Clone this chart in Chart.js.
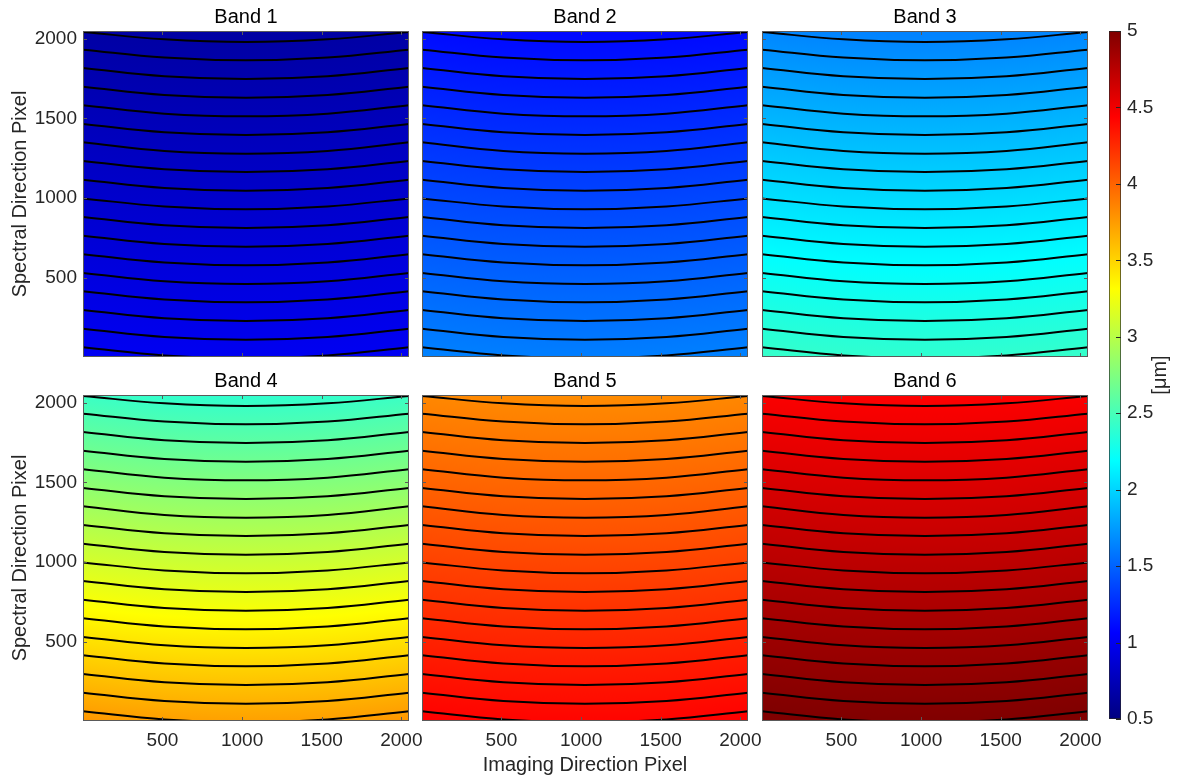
<!DOCTYPE html>
<html>
<head>
<meta charset="utf-8">
<script src="https://cdn.jsdelivr.net/npm/chart.js@4.4.1/dist/chart.umd.min.js"></script>
<style>
  html,body{margin:0;padding:0;background:#fff;}
  body{width:1183px;height:781px;position:relative;overflow:hidden;}
  canvas{position:absolute;}
</style>
</head>
<body>
<script>
/* DATA */
const bandNames=["Band 1","Band 2","Band 3","Band 4","Band 5","Band 6"];
// wavelength [um] on the centre column, at spectral pixel 2048 (top) and 1 (bottom)
const lambdaTop=[0.65,1.09,1.63,2.40,3.82,4.44];
const lambdaBottom=[1.00,1.62,2.40,3.73,4.42,5.00];

// iso-wavelength curves (same pixel positions in every band)
const contourX=[1,512,1024,1536,2048];
const contourEdgeY=[2042,1931,1816,1698,1582,1464,1349,1232,1114,997,880,763,646,529,414,296,179,62];
const contourQuarterY=[1996,1881,1764,1646,1529,1412,1295,1180,1062,946,828,711,594,476,362,244,127,11];
const contourMidY=[1979,1864,1747,1629,1512,1395,1278,1163,1045,929,811,694,577,459,345,227,110,-6];

const axisTicks=[500,1000,1500,2000];
const cbarTicks=[0.5,1,1.5,2,2.5,3,3.5,4,4.5,5];

/* LAYOUT */
const FONT='"Liberation Sans", Arial, Helvetica, sans-serif';
const INK="#262626";
const FRAME="#5a5a5a";
const COL_LEFT=[83,422,762];
const ROW_TOP=[31,395];
const PLOT=326;
const AXIS_W=83, TITLE_H=31, BOTTOM_H=60, RIGHT_PAD=24;

const JET=[[0,"rgb(0,0,128)"],[0.125,"rgb(0,0,255)"],[0.375,"rgb(0,255,255)"],
           [0.625,"rgb(255,255,0)"],[0.875,"rgb(255,0,0)"],[1,"rgb(128,0,0)"]];
const CMIN=0.5, CMAX=5;

function addJet(g){ JET.forEach(([t,c])=>g.addColorStop(t,c)); return g; }

function makeCanvas(left,top,w,h){
  const c=document.createElement("canvas");
  c.width=w; c.height=h;
  c.style.left=left+"px"; c.style.top=top+"px";
  c.style.width=w+"px"; c.style.height=h+"px";
  document.body.appendChild(c);
  return c;
}

/* wavelength field behind the contours, one gradient per pixel column */
function fieldPlugin(band){
  const sag=contourEdgeY.reduce((s,v,k)=>s+v-contourMidY[k],0)/contourEdgeY.length;
  return {
    id:"field",
    beforeDatasetsDraw(chart){
      const {ctx,chartArea:a,scales:{x,y}}=chart;
      const lt=lambdaTop[band], lb=lambdaBottom[band];
      ctx.save();
      for(let px=Math.floor(a.left);px<Math.ceil(a.right);px++){
        const u=(x.getValueForPixel(px+0.5)-1024.5)/1023.5;
        const shift=sag*u*u;
        const yAt=v=>1+(v-lb)/(lt-lb)*2047+shift;
        const g=ctx.createLinearGradient(0,y.getPixelForValue(yAt(CMIN)),0,y.getPixelForValue(yAt(CMAX)));
        ctx.fillStyle=addJet(g);
        ctx.fillRect(px,a.top,1,a.bottom-a.top);
      }
      ctx.restore();
    }
  };
}

/* box + inward tick marks on all four sides */
const framePlugin={
  id:"frame",
  afterDatasetsDraw(chart){
    const {ctx,chartArea:a,scales:{x,y}}=chart;
    ctx.save();
    ctx.strokeStyle=FRAME; ctx.lineWidth=1;
    ctx.beginPath();
    axisTicks.forEach(v=>{
      const px=Math.round(x.getPixelForValue(v))+0.5;
      ctx.moveTo(px,a.bottom); ctx.lineTo(px,a.bottom-4);
      ctx.moveTo(px,a.top); ctx.lineTo(px,a.top+4);
      const py=Math.round(y.getPixelForValue(v))+0.5;
      ctx.moveTo(a.left,py); ctx.lineTo(a.left+4,py);
      ctx.moveTo(a.right,py); ctx.lineTo(a.right-4,py);
    });
    ctx.stroke();
    ctx.strokeRect(a.left+0.5,a.top+0.5,a.right-a.left-1,a.bottom-a.top-1);
    ctx.restore();
  }
};

function fixTicks(list){ return s=>{ s.ticks=list.map(v=>({value:v})); }; }

/* PANELS */
bandNames.forEach((name,i)=>{
  const row=Math.floor(i/3), col=i%3;
  const cv=makeCanvas(COL_LEFT[col]-AXIS_W,ROW_TOP[row]-TITLE_H,AXIS_W+PLOT+RIGHT_PAD,TITLE_H+PLOT+BOTTOM_H);

  const datasets=contourMidY.map((mid,k)=>{
    const ys=[contourEdgeY[k],contourQuarterY[k],mid,contourQuarterY[k],contourEdgeY[k]];
    return {
      data:contourX.map((x,j)=>({x:x,y:ys[j]})),
      borderColor:"#000",
      borderWidth:2,
      pointRadius:0,
      tension:0.4,
      fill:false
    };
  });

  new Chart(cv,{
    type:"line",
    data:{datasets:datasets},
    options:{
      responsive:false,
      animation:false,
      devicePixelRatio:1,
      events:[],
      layout:{padding:{left:0,right:RIGHT_PAD,top:0,bottom:0}},
      plugins:{
        legend:{display:false},
        tooltip:{enabled:false},
        title:{
          display:true,
          text:name,
          fullSize:false,
          color:"#000",
          font:{family:FONT,size:20,weight:"normal"},
          padding:{top:5,bottom:2}
        }
      },
      scales:{
        x:{
          type:"linear",min:1,max:2048,
          grid:{display:false,drawTicks:false},
          border:{display:false},
          afterBuildTicks:fixTicks(axisTicks),
          afterFit:s=>{s.height=BOTTOM_H;},
          ticks:{display:row===1,color:INK,padding:8,font:{family:FONT,size:19},maxRotation:0,callback:v=>String(v)},
          title:{display:i===4,text:"Imaging Direction Pixel",color:INK,font:{family:FONT,size:20},padding:{top:0,bottom:4}}
        },
        y:{
          type:"linear",min:1,max:2048,
          grid:{display:false,drawTicks:false},
          border:{display:false},
          afterBuildTicks:fixTicks(axisTicks),
          afterFit:s=>{s.width=AXIS_W;},
          ticks:{display:col===0,color:INK,padding:6,font:{family:FONT,size:19},callback:v=>String(v)},
          title:{display:col===0,text:"Spectral Direction Pixel",color:INK,font:{family:FONT,size:20},padding:{top:8,bottom:0}}
        }
      }
    },
    plugins:[fieldPlugin(i),framePlugin]
  });
});

/* COLORBAR */
const cbCanvas=makeCanvas(1100,0,83,781);
new Chart(cbCanvas,{
  type:"bar",
  data:{
    labels:[""],
    datasets:[{
      data:[[CMIN,CMAX]],
      barPercentage:1,
      categoryPercentage:1,
      borderWidth:1,
      borderColor:INK,
      borderSkipped:false,
      backgroundColor:c=>{
        const {chart}=c;
        if(!chart.chartArea) return null;
        const y=chart.scales.y;
        return addJet(chart.ctx.createLinearGradient(0,y.getPixelForValue(CMIN),0,y.getPixelForValue(CMAX)));
      }
    }]
  },
  options:{
    responsive:false,
    animation:false,
    devicePixelRatio:1,
    events:[],
    layout:{padding:{left:9,right:0,top:31,bottom:62}},
    plugins:{legend:{display:false},tooltip:{enabled:false}},
    scales:{
      x:{display:false},
      y:{
        position:"right",min:CMIN,max:CMAX,
        grid:{display:false,drawTicks:false},
        border:{display:false},
        afterBuildTicks:fixTicks(cbarTicks),
        afterFit:s=>{s.width=62;},
        ticks:{color:INK,padding:6,font:{family:FONT,size:19},callback:v=>String(v)}
      }
    }
  },
  plugins:[{
    id:"cbarDecor",
    afterDatasetsDraw(chart){
      const {ctx,chartArea:a,scales:{y}}=chart;
      ctx.save();
      ctx.strokeStyle=INK; ctx.lineWidth=1;
      ctx.beginPath();
      cbarTicks.forEach(v=>{
        const py=Math.round(y.getPixelForValue(v))+0.5;
        ctx.moveTo(a.right,py); ctx.lineTo(a.right-5,py);
      });
      ctx.stroke();
      // colorbar label, read bottom to top
      ctx.translate(60,(a.top+a.bottom)/2);
      ctx.rotate(-Math.PI/2);
      ctx.fillStyle=INK;
      ctx.font="20px "+FONT;
      ctx.textAlign="center";
      ctx.textBaseline="middle";
      ctx.fillText("[\u03bcm]",0,0);
      ctx.restore();
    }
  }]
});
</script>
</body>
</html>
